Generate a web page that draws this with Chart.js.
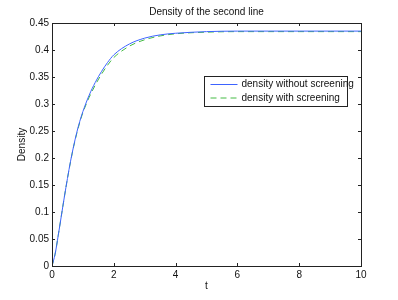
<!DOCTYPE html>
<html>
<head>
<meta charset="utf-8">
<script src="https://cdn.jsdelivr.net/npm/chart.js@4"></script>
<style>
  html, body { margin: 0; padding: 0; background: #fff; }
  #chart { display: block; }
</style>
</head>
<body>
<canvas id="chart" width="398" height="300"></canvas>
<script>
// Values
const tValues = [0, 0.1, 0.2, 0.3, 0.4, 0.5, 0.6, 0.7, 0.8, 0.9, 1.0, 1.2, 1.4, 1.6, 1.8, 2.0, 2.5, 3.0, 3.5, 4.0, 5.0, 6.0, 7.0, 8.0, 9.0, 10.0];
const densityNoScreen = [0, 0.022, 0.056, 0.092, 0.128, 0.162, 0.194, 0.222, 0.247, 0.268, 0.286, 0.316, 0.340, 0.360, 0.377, 0.391, 0.411, 0.422, 0.428, 0.431, 0.434, 0.435, 0.435, 0.435, 0.435, 0.435];
const densityScreen = [0, 0.022, 0.056, 0.092, 0.128, 0.162, 0.193, 0.221, 0.245, 0.266, 0.284, 0.312, 0.335, 0.355, 0.372, 0.386, 0.407, 0.419, 0.426, 0.430, 0.433, 0.434, 0.434, 0.434, 0.434, 0.434];
const seriesLabels = ['density without screening', 'density with screening'];
const xTicks = [0, 2, 4, 6, 8, 10];
const yTicks = [0, 0.05, 0.1, 0.15, 0.2, 0.25, 0.3, 0.35, 0.4, 0.45];

const FONT = '"Liberation Sans", Arial, sans-serif';
const toPoints = ys => tValues.map((t, i) => ({ x: t, y: ys[i] }));

// Box around the plot with inward ticks, MATLAB style
const boxPlugin = {
    id: 'boxPlugin',
    afterDatasetsDraw(chart) {
        const { ctx, chartArea: a, scales: { x, y } } = chart;
        ctx.save();
        ctx.strokeStyle = '#222';
        ctx.lineWidth = 1;
        ctx.strokeRect(Math.round(a.left) + 0.5, Math.round(a.top) + 0.5,
            Math.round(a.right - a.left), Math.round(a.bottom - a.top));
        ctx.beginPath();
        xTicks.forEach(v => {
            const px = Math.round(x.getPixelForValue(v)) + 0.5;
            ctx.moveTo(px, a.bottom); ctx.lineTo(px, a.bottom - 3);
            ctx.moveTo(px, a.top); ctx.lineTo(px, a.top + 3);
        });
        yTicks.forEach(v => {
            const py = Math.round(y.getPixelForValue(v)) + 0.5;
            ctx.moveTo(a.left, py); ctx.lineTo(a.left + 3, py);
            ctx.moveTo(a.right, py); ctx.lineTo(a.right - 3, py);
        });
        ctx.stroke();
        ctx.restore();
    }
};

// Legend box inside the plot
const legendPlugin = {
    id: 'legendBox',
    afterDraw(chart) {
        const { ctx } = chart;
        const bx = 204.5, by = 76.5, bw = 143, bh = 30;
        ctx.save();
        ctx.fillStyle = '#fff';
        ctx.fillRect(bx, by, bw, bh);
        ctx.strokeStyle = '#222';
        ctx.lineWidth = 1;
        ctx.strokeRect(bx, by, bw, bh);
        ctx.font = '10px ' + FONT;
        ctx.textBaseline = 'middle';
        chart.data.datasets.forEach((ds, i) => {
            const ly = by + 8 + i * 13.5;
            ctx.strokeStyle = ds.borderColor;
            ctx.setLineDash(ds.borderDash || []);
            ctx.beginPath();
            ctx.moveTo(bx + 6, ly);
            ctx.lineTo(bx + 33, ly);
            ctx.stroke();
            ctx.setLineDash([]);
            ctx.fillStyle = '#111';
            ctx.fillText(ds.label, bx + 37, ly);
        });
        ctx.restore();
    }
};

new Chart(document.getElementById('chart'), {
    type: 'scatter',
    data: {
        datasets: [
            {
                label: seriesLabels[0],
                data: toPoints(densityNoScreen),
                showLine: true,
                borderColor: '#3d63ff',
                borderWidth: 1,
                pointRadius: 0,
                cubicInterpolationMode: 'monotone'
            },
            {
                label: seriesLabels[1],
                data: toPoints(densityScreen),
                showLine: true,
                borderColor: '#44bb44',
                borderWidth: 1,
                borderDash: [6, 4],
                pointRadius: 0,
                cubicInterpolationMode: 'monotone'
            }
        ]
    },
    options: {
        responsive: false,
        animation: false,
        layout: { padding: { left: 0, right: 37, top: 0, bottom: 0 } },
        plugins: {
            legend: { display: false },
            tooltip: { enabled: false },
            title: {
                display: true,
                text: 'Density of the second line',
                fullSize: false,
                color: '#111',
                font: { family: FONT, size: 10, weight: 'normal' },
                padding: { top: 6, bottom: 5 }
            }
        },
        scales: {
            x: {
                type: 'linear',
                min: 0, max: 10,
                afterBuildTicks: s => { s.ticks = xTicks.map(v => ({ value: v })); },
                afterFit: s => { s.height = 34; },
                grid: { display: false, drawTicks: false },
                border: { display: false },
                ticks: { color: '#111', padding: 3, maxRotation: 0, font: { family: FONT, size: 10 } },
                title: { display: true, text: 't', color: '#111', padding: { top: 2, bottom: 8 }, font: { family: FONT, size: 10 } }
            },
            y: {
                min: 0, max: 0.45,
                afterBuildTicks: s => { s.ticks = yTicks.map(v => ({ value: v })); },
                afterFit: s => { s.width = 52; },
                grid: { display: false, drawTicks: false },
                border: { display: false },
                ticks: { color: '#111', padding: 3, font: { family: FONT, size: 10 }, callback: v => String(+v.toFixed(2)) },
                title: { display: true, text: 'Density', color: '#111', padding: { top: 16, bottom: 4 }, font: { family: FONT, size: 10 } }
            }
        }
    },
    plugins: [boxPlugin, legendPlugin]
});
</script>
</body>
</html>
